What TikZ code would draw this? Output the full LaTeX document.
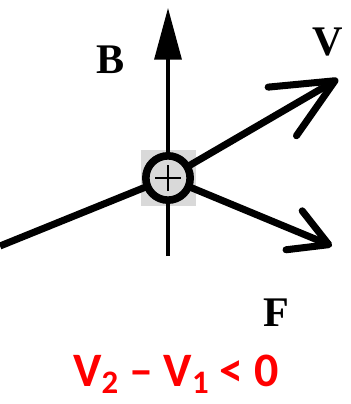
\documentclass[tikz,border=0pt]{standalone}
\usepackage{fontspec}
\setmainfont{Liberation Serif}
\newfontfamily\calibfont{Carlito}
\usetikzlibrary{arrows.meta}

\newcommand\lowsub[1]{\raisebox{-0.16em}{\fontsize{28}{30}\selectfont #1}}

\begin{document}
\begin{tikzpicture}[x=0.03cm,y=-0.03cm,
  thickline/.style={line width=6pt},
  vecline/.style={thickline,line cap=round},
  lbl/.style={font=\fontsize{36}{40}\selectfont\bfseries,inner sep=0pt}]
  \useasboundingbox (0,0) rectangle (350,404);

  % grey patch behind the charge
  \node[fill=black!15,minimum size=1.65cm,inner sep=0pt] (patch) at (168,178) {};
  \coordinate (o) at (168,178);

  % field B
  \coordinate (bfoot) at (168,256);
  \coordinate (btip) at (168,8);
  \draw[line width=2.8pt,-{Triangle[length=44pt,width=23pt]}] (bfoot) -- (btip);

  % incoming path and velocity
  \coordinate (in) at (0,246);
  \coordinate (vtip) at (338,79);
  \draw[thickline] (in) -- (o);
  \draw[vecline,-{Straight Barb[length=52pt,width=48pt,round]}] (o) -- (vtip);

  % force
  \coordinate (ftip) at (332,246);
  \draw[vecline,-{Straight Barb[length=32pt,width=36pt,round]}] (o) -- (ftip);

  % charge
  \node[circle,draw,fill=black!15,line width=6.5pt,minimum size=1.33cm,inner sep=0pt] (q) at (o) {};
  \draw[line width=1.6pt] ([xshift=-0.39cm]q.center) -- ([xshift=0.39cm]q.center);
  \draw[line width=1.6pt] ([yshift=-0.39cm]q.center) -- ([yshift=0.39cm]q.center);

  % labels
  \node[lbl] (blbl) at (111,60) {B};
  \node[lbl] (vlbl) at (328,42) {V};
  \node[lbl] (flbl) at (276,313) {F};
  \node[anchor=base,text=red,inner sep=0pt,font=\calibfont\bfseries\fontsize{41}{44}\selectfont] (eq) at (176,386)
    {V\lowsub{2} – V\lowsub{1} < 0};
\end{tikzpicture}
\end{document}
